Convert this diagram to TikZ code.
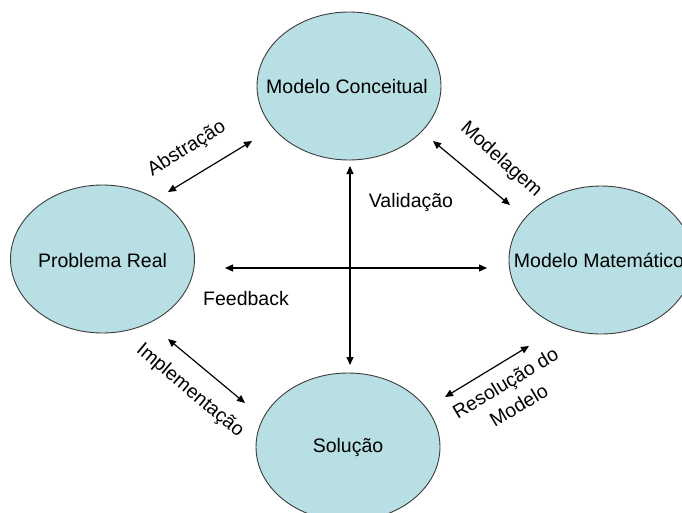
\documentclass[tikz,border=0pt]{standalone}
\usepackage{fontspec}
\setmainfont{Liberation Sans}
\usetikzlibrary{shapes.geometric,arrows.meta}
\definecolor{blobfill}{RGB}{184,223,227}
\definecolor{blobline}{RGB}{60,60,60}
\tikzset{
  blob/.style={ellipse, draw=blobline, line width=0.9pt, fill=blobfill,
    minimum width=184pt, minimum height=148pt, inner sep=0pt},
  lbl/.style={font=\fontsize{19.5}{24}\selectfont, inner sep=0pt, text=black},
  dbl/.style={line width=1.2pt, {Triangle[length=8pt,width=7pt]}-{Triangle[length=8pt,width=7pt]}}
}
\begin{document}
\begin{tikzpicture}[x=1pt,y=-1pt]
\useasboundingbox (0,0) rectangle (682,512);
\clip (0,0) rectangle (682,512);
% ellipses
\node[blob] (mc) at (349,86) {};
\node[blob] (pr) at (102.5,259) {};
\node[blob] (mm) at (601,260) {};
\node[blob] (so) at (348,447) {};
% texts in ellipses
\node[lbl] (mct) at (347,87) {Modelo Conceitual};
\node[lbl] (prt) at (102.5,261) {Problema Real};
\node[lbl] (mmt) at (599,260) {Modelo Matemático};
\node[lbl] (sot) at (348,447) {Solução};
% arrow end coordinates
\coordinate (a1) at (168,192); \coordinate (a2) at (252,141);
\coordinate (b1) at (433,141); \coordinate (b2) at (510,205);
\coordinate (c1) at (168,339); \coordinate (c2) at (245,403);
\coordinate (d1) at (445,397); \coordinate (d2) at (529,346);
\coordinate (v1) at (350,166); \coordinate (v2) at (350,365);
\coordinate (h1) at (225,268); \coordinate (h2) at (487,268);
% arrows
\draw[dbl] (a1) -- (a2);
\draw[dbl] (b1) -- (b2);
\draw[dbl] (c1) -- (c2);
\draw[dbl] (d1) -- (d2);
\draw[dbl] (v1) -- (v2);
\draw[dbl] (h1) -- (h2);
% labels
\node[lbl, rotate=32] (labs) at (187,149) {Abstração};
\node[lbl, rotate=-42] (lmod) at (501,160) {Modelagem};
\node[lbl, rotate=-40] (limp) at (190,391) {Implementação};
\node[lbl, rotate=31, align=center, font=\fontsize{19.5}{26}\selectfont] (lres) at (512,394) {Resolução do\\Modelo};
\node[lbl] (lval) at (411,202) {Validação};
\node[lbl] (lfee) at (246,299) {Feedback};
\end{tikzpicture}
\end{document}
